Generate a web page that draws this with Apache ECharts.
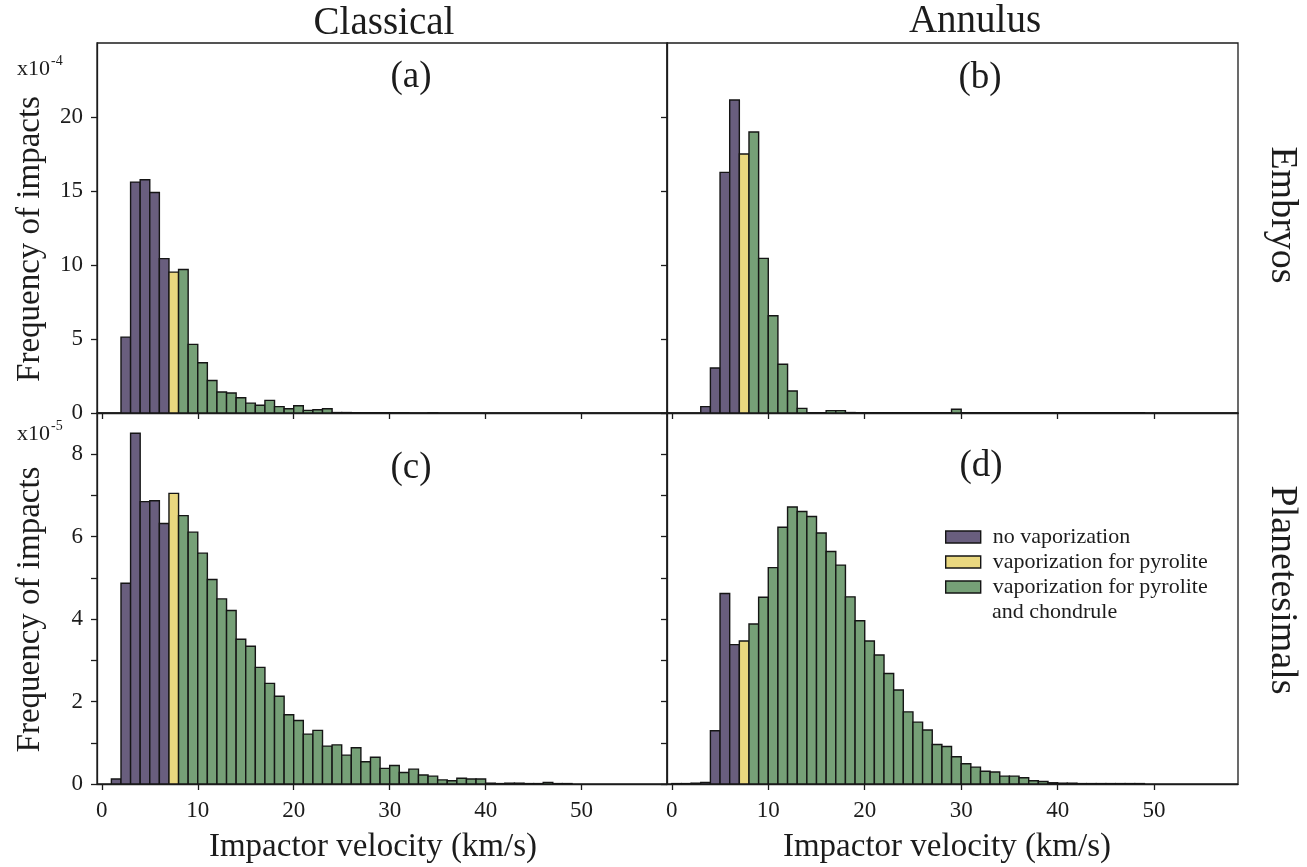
<!DOCTYPE html>
<html>
<head>
<meta charset="utf-8">
<title>Impactor velocity distributions</title>
<script src="https://cdn.jsdelivr.net/npm/echarts@6/dist/echarts.min.js"></script>
<style>
  html, body { margin: 0; padding: 0; background: #ffffff; }
  #chart { width: 1307px; height: 867px; }
</style>
</head>
<body>
<div id="chart"></div>
<script>
// Histogram bins: 1 km/s wide, first bin starts at 0 km/s
const binStart = 0;
const binWidth = 1;

// Frequency of impacts per bin (units of 1e-4), embryos
const embryosClassical = [
  0, 0, 5.13, 15.6, 15.76, 14.9, 10.43, 9.52, 9.7, 4.64,
  3.40, 2.2, 1.42, 1.35, 1.03, 0.67, 0.52, 0.85, 0.43, 0.29,
  0.49, 0.18, 0.22, 0.29, 0.03, 0.03, 0.02, 0.02, 0.02, 0.02,
  0.01, 0.01, 0, 0, 0.01, 0, 0, 0, 0, 0,
  0, 0, 0, 0, 0, 0, 0, 0, 0, 0
];
const embryosAnnulus = [
  0, 0, 0, 0.43, 3.04, 16.26, 21.15, 17.5, 18.99, 10.45,
  6.57, 3.29, 1.49, 0.31, 0.02, 0.02, 0.16, 0.16, 0.03, 0.02,
  0.02, 0.02, 0.02, 0.02, 0.02, 0.02, 0.02, 0.02, 0.02, 0.25,
  0.02, 0.02, 0.02, 0.02, 0.02, 0.02, 0.02, 0.02, 0.02, 0.02,
  0.02, 0.02, 0.02, 0.02, 0.02, 0.02, 0.02, 0.02, 0.02, 0
];

// Frequency of impacts per bin (units of 1e-5), planetesimals
const planetesimalsClassical = [
  0, 0.12, 4.87, 8.51, 6.85, 6.87, 6.32, 7.05, 6.51, 6.11,
  5.60, 4.96, 4.49, 4.21, 3.51, 3.34, 2.83, 2.44, 2.13, 1.68,
  1.54, 1.21, 1.30, 0.92, 0.95, 0.70, 0.88, 0.54, 0.65, 0.38,
  0.45, 0.28, 0.36, 0.22, 0.19, 0.10, 0.08, 0.14, 0.12, 0.12,
  0.02, 0.01, 0.02, 0.02, 0.01, 0.01, 0.04, 0.01, 0.01, 0
];
const planetesimalsAnnulus = [
  0.01, 0.01, 0.02, 0.04, 1.29, 4.62, 3.38, 3.47, 3.88, 4.53,
  5.25, 6.23, 6.72, 6.61, 6.49, 6.09, 5.64, 5.31, 4.54, 3.96,
  3.47, 3.13, 2.68, 2.28, 1.75, 1.50, 1.31, 0.96, 0.91, 0.66,
  0.49, 0.41, 0.31, 0.29, 0.19, 0.19, 0.15, 0.08, 0.06, 0.03,
  0.02, 0.02, 0.01, 0.01, 0.01, 0.01, 0.01, 0.01, 0.01, 0
];

// Velocity thresholds (km/s) separating the outcome classes
const pyroliteVaporFrom = 7;
const chondruleVaporFrom = 8;

const classNames = [
  'no vaporization',
  'vaporization for pyrolite',
  'vaporization for pyrolite and chondrule'
];
const classColors = ['#695e7e', '#e9d77f', '#76a077'];

// Tick values
const velocityTicks = [0, 10, 20, 30, 40, 50];
const embryoTicks = [0, 5, 10, 15, 20];
const planetesimalTicks = [0, 1, 2, 3, 4, 5, 6, 7, 8];
const planetesimalTickLabels = [0, 2, 4, 6, 8];

const columnTitles = ['Classical', 'Annulus'];
const rowTitles = ['Embryos', 'Planetesimals'];
const panelTags = ['(a)', '(b)', '(c)', '(d)'];

const FONT = '"Liberation Serif", "DejaVu Serif", "Times New Roman", serif';
const INK = '#1c1c1c';

const panelValues = [embryosClassical, embryosAnnulus, planetesimalsClassical, planetesimalsAnnulus];

const grids = [
  { left: 97,  top: 43,  width: 570, height: 370 },
  { left: 667, top: 43,  width: 571, height: 370 },
  { left: 97,  top: 413, width: 570, height: 371 },
  { left: 667, top: 413, width: 571, height: 371 }
];

function classOf(v) {
  if (v < pyroliteVaporFrom) return 0;
  if (v < chondruleVaporFrom) return 1;
  return 2;
}

// One rectangle per bin, spanning [x, x + binWidth] and [0, value]
function renderBin(params, api) {
  const x = api.value(0);
  const v = api.value(1);
  const base = api.coord([x, 0]);
  const top = api.coord([x + binWidth, v]);
  return {
    type: 'rect',
    shape: { x: base[0], y: top[1], width: top[0] - base[0], height: base[1] - top[1] },
    style: { fill: api.visual('color'), stroke: '#151515', lineWidth: 1.4 }
  };
}

const axisLineStyle = { color: INK, width: 1.3 };

const xAxes = grids.map((g, i) => {
  const bottomRow = i >= 2;
  return {
    type: 'value', gridIndex: i,
    min: -0.5, max: i % 2 ? 58.7 : 58.9,
    axisLine: { show: true, onZero: false, lineStyle: axisLineStyle },
    axisTick: { show: true, customValues: velocityTicks, length: 6, lineStyle: axisLineStyle },
    axisLabel: { show: bottomRow, customValues: velocityTicks, margin: 15,
                 fontFamily: FONT, fontSize: 23, color: INK },
    splitLine: { show: false },
    name: bottomRow ? 'Impactor velocity (km/s)' : '',
    nameLocation: 'middle', nameGap: 47,
    nameTextStyle: { fontFamily: FONT, fontSize: 33, color: INK,
                     padding: [0, i % 2 ? 11 : 18, 0, 0] }
  };
});

const yAxes = grids.map((g, i) => {
  const leftCol = i % 2 === 0;
  const lowerRow = i >= 2;
  return {
    type: 'value', gridIndex: i,
    min: 0, max: lowerRow ? 9 : 25,
    axisLine: { show: true, onZero: false, lineStyle: axisLineStyle },
    axisTick: { show: true, customValues: lowerRow ? planetesimalTicks : embryoTicks,
                length: 6, lineStyle: axisLineStyle },
    axisLabel: { show: leftCol, customValues: lowerRow ? planetesimalTickLabels : embryoTicks,
                 margin: 14, fontFamily: FONT, fontSize: 23, color: INK },
    splitLine: { show: false },
    name: leftCol ? 'Frequency of impacts' : '',
    nameLocation: 'middle', nameGap: 50,
    nameTextStyle: { fontFamily: FONT, fontSize: 33, color: INK, padding: [0, 22, 0, 0] }
  };
});

const series = [];
panelValues.forEach((vals, p) => {
  classNames.forEach((name, c) => {
    const data = [];
    vals.forEach((v, k) => {
      const x = binStart + k * binWidth;
      if (v > 0 && classOf(x) === c) data.push([x, v]);
    });
    series.push({
      type: 'custom', name: name,
      xAxisIndex: p, yAxisIndex: p,
      itemStyle: { color: classColors[c] },
      encode: { x: 0, y: 1 },
      renderItem: renderBin,
      clip: true,
      data: data
    });
  });
});

function label(text, x, y, size, extra) {
  return Object.assign({
    type: 'text', x: x, y: y, silent: true,
    style: { text: text, fontFamily: FONT, fontSize: size, fill: INK,
             align: 'center', verticalAlign: 'middle' }
  }, extra || {});
}

function plainText(text, x, y, size) {
  return { type: 'text', x: x, y: y, silent: true,
           style: { text: text, fontFamily: FONT, fontSize: size, fill: INK,
                    align: 'left', verticalAlign: 'middle' } };
}

const graphics = [
  label(columnTitles[0], 384, 24, 39),
  label(columnTitles[1], 975, 22, 39),
  label(rowTitles[0], 1282, 215, 38, { rotation: -Math.PI / 2 }),
  label(rowTitles[1], 1282, 590, 38, { rotation: -Math.PI / 2 }),
  label(panelTags[0], 411, 77, 37),
  label(panelTags[1], 980, 78, 37),
  label(panelTags[2], 411, 468, 37),
  label(panelTags[3], 981, 466, 37),
  // axis multipliers
  plainText('x10', 17, 69, 22),
  plainText('-4', 51, 61, 14),
  plainText('x10', 17, 434, 22),
  plainText('-5', 51, 426, 14),
  // continuation line of the last legend entry
  plainText('and chondrule', 992, 612, 22)
];

const option = {
  animation: false,
  backgroundColor: '#ffffff',
  grid: grids.map(g => Object.assign({
    show: true, borderColor: INK, borderWidth: 1.3, backgroundColor: 'transparent',
    containLabel: false, outerBoundsMode: 'none'
  }, g)),
  xAxis: xAxes,
  yAxis: yAxes,
  legend: {
    data: classNames,
    orient: 'vertical',
    left: 945, top: 524.5,
    padding: 0,
    itemWidth: 35, itemHeight: 12, itemGap: 0,
    icon: 'rect',
    selectedMode: false,
    itemStyle: { borderColor: '#151515', borderWidth: 1.4 },
    textStyle: { fontFamily: FONT, fontSize: 22, color: INK, lineHeight: 25, padding: [0, 0, 0, 7] },
    formatter: name => name === classNames[2] ? 'vaporization for pyrolite' : name
  },
  graphic: graphics,
  series: series
};

const chart = echarts.init(document.getElementById('chart'));
chart.setOption(option);
</script>
</body>
</html>
